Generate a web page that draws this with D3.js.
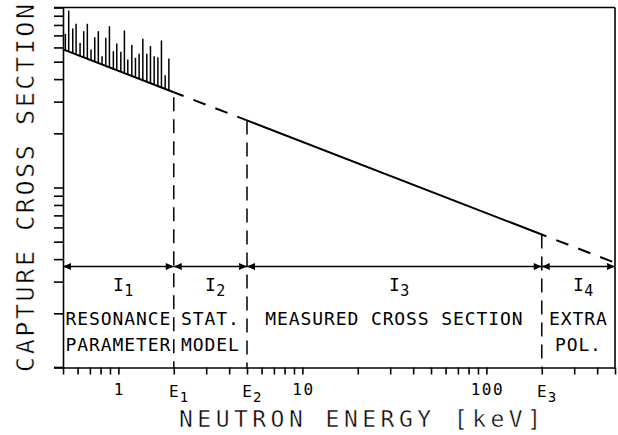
<!DOCTYPE html>
<html>
<head>
<meta charset="utf-8">
<script src="https://cdn.jsdelivr.net/npm/d3@7"></script>
<style>
  body { margin: 0; background: #fff; }
  svg { display: block; }
  text { font-family: "DejaVu Sans Mono", monospace; fill: #000; }
  text.title { stroke: #fff; stroke-width: 0.45px; }
</style>
</head>
<body>
<div id="chart"></div>
<script>
// data (energy in keV, cross section in arbitrary units)
const curveE = [0.5, 2, 5, 200, 500];
const curveSigma = [58.5, 33.8, 23.6, 5.48, 3.82];
const curveDashed = [false, true, false, true];   // one flag per segment

const resE = [0.515, 0.537, 0.565, 0.589, 0.619, 0.648, 0.678, 0.710, 0.744, 0.778,
  0.815, 0.854, 0.894, 0.939, 0.980, 1.031, 1.078, 1.125, 1.183, 1.238,
  1.296, 1.358, 1.427, 1.494, 1.565, 1.639, 1.714, 1.796, 1.881];
const resPeak = [71.4, 96.2, 76.4, 81.2, 63.6, 73.9, 81.2, 58.4, 68.4, 73.9,
  53.6, 67.9, 78.7, 57.2, 63.1, 56.7, 74.5, 51.4, 61.8, 52.6,
  55.3, 67.0, 55.3, 61.0, 53.6, 52.9, 65.6, 42.1, 52.1];

const boundE = [2, 5, 200];
const boundSub = ['1', '2', '3'];
const intervalE = [0.5, 2, 5, 200, 500];
const intervalSub = ['1', '2', '3', '4'];
const regionText = [
  ['RESONANCE', 'PARAMETER'],
  ['STAT.', 'MODEL'],
  ['MEASURED CROSS SECTION'],
  ['EXTRA', 'POL.']
];
const xLabelValues = [1, 10, 100];
const xLabels = ['1', '10', '100'];

// initialize
const width = 618, height = 435;
let svg = d3.select('#chart').append('svg')
  .attr('width', width)
  .attr('height', height);

let x = d3.scaleLog().domain([0.5, 500]).range([63, 615]);
let y = d3.scaleLog().domain([1, 100]).range([367.5, 7.5]);

// sigma on the straight (log-log) curve at energy e
function sigmaAt(e) {
  for (let i = 0; i < curveE.length - 1; i++) {
    if (e <= curveE[i + 1]) {
      let t = Math.log(e / curveE[i]) / Math.log(curveE[i + 1] / curveE[i]);
      return Math.exp(Math.log(curveSigma[i]) + t * Math.log(curveSigma[i + 1] / curveSigma[i]));
    }
  }
  return curveSigma[curveSigma.length - 1];
}

// axes
svg.append('g')
  .attr('transform', 'translate(0,' + y(1) + ')')
  .call(d3.axisBottom(x).tickValues(x.ticks()).tickFormat('').tickSize(7).tickSizeOuter(0));
svg.append('g')
  .attr('transform', 'translate(' + x(0.5) + ',0)')
  .call(d3.axisLeft(y).tickValues(y.ticks()).tickFormat('').tickSize(9).tickSizeOuter(0));
svg.selectAll('.tick line, .domain')
  .attr('stroke', '#000')
  .attr('stroke-width', 1.6);

// frame
function frameLine(x1, y1, x2, y2) {
  svg.append('line')
    .attr('x1', x1).attr('y1', y1)
    .attr('x2', x2).attr('y2', y2)
    .attr('stroke', '#000').attr('stroke-width', 1.6);
}
frameLine(x(0.5) - 9, y(100), x(500), y(100));
frameLine(x(500), y(100), x(500), y(1));
frameLine(x(0.5) - 9, y(1), x(0.5), y(1));

// cross section curve
let line = d3.line()
  .x(function (d) { return x(d[0]); })
  .y(function (d) { return y(d[1]); });

let segs = curveDashed.map(function (dashed, i) {
  return {dashed: dashed, pts: [[curveE[i], curveSigma[i]], [curveE[i + 1], curveSigma[i + 1]]]};
});
svg.selectAll('.seg')
  .data(segs)
  .join('path')
  .attr('class', 'seg')
  .attr('d', function (d) { return line(d.pts); })
  .attr('fill', 'none')
  .attr('stroke', '#000')
  .attr('stroke-width', 2)
  .attr('stroke-dasharray', function (d) { return d.dashed ? '13,10.5' : null; })
  .attr('stroke-dashoffset', function (d, i) { return i === 1 ? 2.5 : (d.dashed ? 8 : null); });

// resonances
svg.selectAll('.res')
  .data(d3.zip(resE, resPeak))
  .join('line')
  .attr('class', 'res')
  .attr('x1', function (d) { return x(d[0]); })
  .attr('x2', function (d) { return x(d[0]); })
  .attr('y1', function (d) { return y(sigmaAt(d[0])); })
  .attr('y2', function (d) { return y(d[1]); })
  .attr('stroke', '#000')
  .attr('stroke-width', 1.5);

// boundaries E1, E2, E3
svg.selectAll('.bound')
  .data(boundE)
  .join('line')
  .attr('class', 'bound')
  .attr('x1', function (d) { return x(d); })
  .attr('x2', function (d) { return x(d); })
  .attr('y1', function (d) { return y(sigmaAt(d)); })
  .attr('y2', y(1))
  .attr('stroke', '#000')
  .attr('stroke-width', 1.5)
  .attr('stroke-dasharray', '14,8')
  .attr('stroke-dashoffset', function (d, i) { return i === 0 ? -5 : 0; });

// interval arrows
const arrowY = 266.5, ah = 8, aw = 3.5;
let intervals = intervalSub.map(function (s, i) {
  return {sub: s, a: intervalE[i], b: intervalE[i + 1], text: regionText[i]};
});
let iv = svg.selectAll('.iv')
  .data(intervals)
  .join('g')
  .attr('class', 'iv');
iv.append('line')
  .attr('x1', function (d) { return x(d.a); })
  .attr('x2', function (d) { return x(d.b); })
  .attr('y1', arrowY).attr('y2', arrowY)
  .attr('stroke', '#000').attr('stroke-width', 1.6);
iv.append('path')
  .attr('d', function (d) {
    let xa = x(d.a), xb = x(d.b);
    return 'M' + xa + ',' + arrowY + 'L' + (xa + ah) + ',' + (arrowY - aw) + 'L' + (xa + ah) + ',' + (arrowY + aw) + 'Z' +
      'M' + xb + ',' + arrowY + 'L' + (xb - ah) + ',' + (arrowY - aw) + 'L' + (xb - ah) + ',' + (arrowY + aw) + 'Z';
  })
  .attr('fill', '#000');

// I labels, the "I" centred over the interval
let il = iv.append('text')
  .attr('y', arrowY + 24)
  .attr('font-size', 18);
il.append('tspan')
  .text('I')
  .attr('x', function (d) { return (x(d.a) + x(d.b)) / 2 - 5.4; });
il.append('tspan')
  .text(function (d) { return d.sub; })
  .attr('font-size', 15)
  .attr('dx', 0.5)
  .attr('dy', 5);

// region descriptions
iv.each(function (d) {
  let g = d3.select(this), cx = (x(d.a) + x(d.b)) / 2;
  d.text.forEach(function (s, k) {
    g.append('text')
      .text(s)
      .attr('x', cx)
      .attr('y', 324.5 + k * 26)
      .attr('text-anchor', 'middle')
      .attr('font-size', 18)
      .attr('letter-spacing', 0.9);
  });
});

// x tick labels
svg.selectAll('.xl')
  .data(xLabelValues)
  .join('text')
  .attr('class', 'xl')
  .text(function (d, i) { return xLabels[i]; })
  .attr('x', function (d) { return x(d) + 1; })
  .attr('y', 395)
  .attr('text-anchor', 'middle')
  .attr('font-size', 16)
  .attr('letter-spacing', 1.5);

let el = svg.selectAll('.el')
  .data(boundE)
  .join('g')
  .attr('class', 'el');
el.append('text')
  .text('E')
  .attr('x', function (d) { return x(d); })
  .attr('y', 397)
  .attr('text-anchor', 'middle')
  .attr('font-size', 16);
el.append('text')
  .text(function (d, i) { return boundSub[i]; })
  .attr('x', function (d) { return x(d) + 6; })
  .attr('y', 402)
  .attr('font-size', 14);

// axis titles
svg.append('text')
  .attr('class', 'title')
  .text('NEUTRON ENERGY [keV]')
  .attr('x', 360)
  .attr('y', 427)
  .attr('text-anchor', 'middle')
  .attr('font-size', 23)
  .attr('textLength', 362)
  .attr('lengthAdjust', 'spacing');

svg.append('text')
  .attr('class', 'title')
  .text('CAPTURE CROSS SECTION')
  .attr('transform', 'translate(34,188) rotate(-90)')
  .attr('text-anchor', 'middle')
  .attr('font-size', 25)
  .attr('textLength', 368)
  .attr('lengthAdjust', 'spacing');
</script>
</body>
</html>
